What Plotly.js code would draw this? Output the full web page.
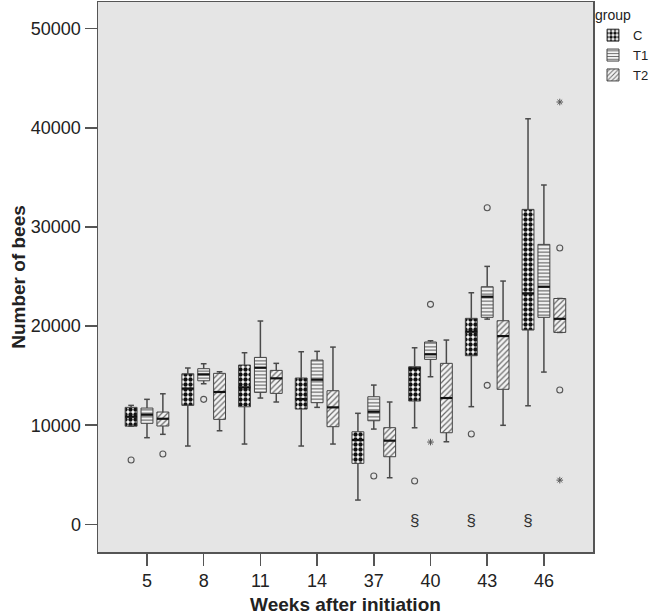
<!DOCTYPE html>
<html><head><meta charset="utf-8">
<script src="https://cdn.plot.ly/plotly-3.0.1.min.js"></script>
<style>body{margin:0;background:#fff}#chart{width:653px;height:615px}</style>
</head><body><div id="chart"></div>
<script>
const weeks = ['5','8','11','14','37','40','43','46'];
const groups = ['C','T1','T2'];

// group C
const C_low  = [9900, 7900, 8100, 7900, 2450, 9740, 11870, 11960];
const C_q1   = [9900, 12000, 11860, 11630, 6150, 12440, 17010, 19600];
const C_med  = [10850, 13700, 13820, 12640, 8500, 15740, 19430, 23300];
const C_q3   = [11800, 15190, 16070, 14760, 9340, 15900, 20780, 31770];
const C_high = [12000, 15770, 17310, 17410, 11200, 17810, 23360, 40910];
const C_outIdx = [0, 5, 6];
const C_outVal = [6490, 4370, 9110];
const C_extIdx = [];
const C_extVal = [];

// group T1
const T1_low  = [8740, 14180, 12740, 11800, 9610, 14890, 20700, 15360];
const T1_q1   = [10190, 14480, 13310, 12270, 10450, 16640, 20880, 20880];
const T1_med  = [11060, 15130, 15800, 14590, 11360, 17150, 22960, 23970];
const T1_q3   = [11730, 15700, 16840, 16570, 12870, 18390, 23970, 28240];
const T1_high = [12610, 16200, 20510, 17450, 14050, 18520, 26020, 34230];
const T1_outIdx = [1, 4, 5, 6, 6];
const T1_outVal = [12610, 4870, 22190, 31940, 14020];
const T1_extIdx = [5];
const T1_extVal = [8300];

// group T2
const T2_low  = [9080, 9440, 12340, 8100, 4700, 8330, 9990, 19360];
const T2_q1   = [9920, 10590, 13210, 9850, 6820, 9240, 13620, 19360];
const T2_med  = [10650, 13350, 14730, 11800, 8440, 12740, 18990, 20730];
const T2_q3   = [11330, 15230, 15530, 13480, 9750, 16240, 20540, 22780];
const T2_high = [13170, 15390, 16240, 17880, 12340, 18590, 24540, 22780];
const T2_outIdx = [0, 7, 7];
const T2_outVal = [7090, 27880, 13550];
const T2_extIdx = [7, 7];
const T2_extVal = [42600, 4460];

// significance marks (§) under group C
const sigIdx = [5, 6, 7];
const sigVal = [260, 260, 260];
const sigText = ['§', '§', '§'];

const yTicks = [0, 10000, 20000, 30000, 40000, 50000];

const data = [
  {name:'C', low:C_low, q1:C_q1, med:C_med, q3:C_q3, high:C_high, oi:C_outIdx, ov:C_outVal, ei:C_extIdx, ev:C_extVal,
   pattern:{shape:'.', fgcolor:'#111', bgcolor:'#ffffff', size:5, solidity:0.6, fillmode:'replace'}},
  {name:'T1', low:T1_low, q1:T1_q1, med:T1_med, q3:T1_q3, high:T1_high, oi:T1_outIdx, ov:T1_outVal, ei:T1_extIdx, ev:T1_extVal,
   pattern:{shape:'-', fgcolor:'#6a6a6a', bgcolor:'#f4f4f4', size:3.5, solidity:0.35, fillmode:'replace'}},
  {name:'T2', low:T2_low, q1:T2_q1, med:T2_med, q3:T2_q3, high:T2_high, oi:T2_outIdx, ov:T2_outVal, ei:T2_extIdx, ev:T2_extVal,
   pattern:{shape:'/', fgcolor:'#6a6a6a', bgcolor:'#f4f4f4', size:4, solidity:0.3, fillmode:'replace'}}
];

const offsets = [-0.28, 0, 0.28];
const boxW = 0.21;
const capW = 0.05;
const lineCol = '#4a4a4a';

const whiskerTraces = [], barTraces = [], medTraces = [], outTraces = [];
data.forEach((g, gi) => {
  const off = offsets[gi];
  const wx = [], wy = [];
  const mx = [], my = [];
  const bx = [], bb = [], by = [];
  weeks.forEach((w, i) => {
    const c = i + off;
    wx.push(c, c, null, c - capW, c + capW, null);
    wy.push(g.q3[i], g.high[i], null, g.high[i], g.high[i], null);
    wx.push(c, c, null, c - capW, c + capW, null);
    wy.push(g.q1[i], g.low[i], null, g.low[i], g.low[i], null);
    mx.push(c - boxW / 2, c + boxW / 2, null);
    my.push(g.med[i], g.med[i], null);
    bx.push(c); bb.push(g.q1[i]); by.push(g.q3[i] - g.q1[i]);
  });
  whiskerTraces.push({type:'scatter', mode:'lines', x:wx, y:wy, showlegend:false, hoverinfo:'skip',
    line:{color:lineCol, width:1.5}, connectgaps:false});
  barTraces.push({type:'bar', name:g.name, x:bx, base:bb, y:by, width:boxW,
    marker:{color:g.pattern.bgcolor, pattern:g.pattern, line:{color:'#444', width:1}}});
  medTraces.push({type:'scatter', mode:'lines', x:mx, y:my, showlegend:false, hoverinfo:'skip',
    line:{color:'#111', width:2.2}});
  outTraces.push({type:'scatter', mode:'markers', x:g.oi.map(i => i + off), y:g.ov, showlegend:false, hoverinfo:'skip',
    marker:{symbol:'circle-open', size:6, color:'#555', line:{width:1.1, color:'#555'}}});
  if (g.ei.length) outTraces.push({type:'scatter', mode:'markers', x:g.ei.map(i => i + off), y:g.ev, showlegend:false, hoverinfo:'skip',
    marker:{symbol:'asterisk-open', size:5.5, color:'#555', line:{width:1, color:'#555'}}});
});

const sigTrace = {type:'scatter', mode:'text', x:sigIdx.map(i => i + offsets[0]), y:sigVal, text:sigText,
  textposition:'middle center', textfont:{size:17, color:'#333'}, showlegend:false, hoverinfo:'skip'};

const layout = {
  width:653, height:615,
  margin:{l:98, r:60, t:2, b:63, pad:0, autoexpand:false},
  paper_bgcolor:'#ffffff', plot_bgcolor:'#e5e5e5',
  font:{family:'Liberation Sans, Arial, sans-serif', color:'#222'},
  barmode:'overlay',
  showlegend:true,
  legend:{x:1.0, xanchor:'left', y:1.0, yanchor:'top', bgcolor:'rgba(0,0,0,0)',
    title:{text:'group', font:{size:14}}, font:{size:13}, itemwidth:30, tracegroupgap:0},
  xaxis:{range:[-0.864, 7.866], tickmode:'array', tickvals:weeks.map((w,i)=>i), ticktext:weeks,
    ticks:'outside', ticklen:12, tickwidth:1.5, tickcolor:'#555',
    showline:true, linecolor:'#555', linewidth:1.5, mirror:true, showgrid:false, zeroline:false,
    tickfont:{size:18, color:'#222'},
    title:{text:'<b>Weeks after initiation</b>', font:{size:19, color:'#222'}}},
  yaxis:{range:[-2790, 52690], tickmode:'array', tickvals:yTicks, ticktext:yTicks.map(String),
    ticks:'outside', ticklen:12, tickwidth:1.5, tickcolor:'#555',
    showline:true, linecolor:'#555', linewidth:1.5, mirror:true, showgrid:false, zeroline:false,
    tickfont:{size:18, color:'#222'},
    title:{text:'<b>Number of bees</b>', font:{size:19, color:'#222'}}}
};

Plotly.newPlot('chart', [...whiskerTraces, ...barTraces, ...medTraces, ...outTraces, sigTrace], layout, {staticPlot:true});
</script></body></html>
